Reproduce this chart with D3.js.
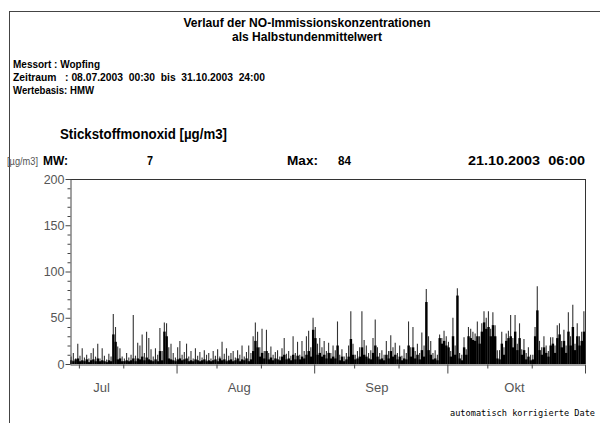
<!DOCTYPE html>
<html><head><meta charset="utf-8">
<script src="https://cdn.jsdelivr.net/npm/d3@7"></script>
<style>body{margin:0;background:#fff}svg{display:block}</style>
</head><body><svg id="c" width="600" height="423"></svg>
<script>
// ---------- data ----------
const startDate = "2003-07-08T00:00:00Z";
const endDate = "2003-11-01T00:00:00Z";
// half-day maxima (µg/m3)
const peakValues = [
 8,12,6,22,9,17,7,10,6,12,
 17,8,22,6,17,9,5,11,8,54,
 40,19,17,8,6,12,7,10,53,9,
 23,20,32,12,35,28,16,8,17,10,
 39,14,45,44,18,22,12,7,18,25,
 10,13,22,8,14,6,17,9,13,7,
 15,10,12,6,14,9,16,8,24,11,
 17,9,12,14,7,15,10,20,8,13,
 20,12,30,45,35,18,38,14,37,12,
 19,10,13,15,8,17,28,11,14,9,
 30,12,24,10,25,14,30,36,18,50,
 40,22,28,18,25,14,23,12,20,15,
 46,10,16,8,12,20,57,22,10,14,
 18,57,26,20,12,15,28,48,18,12,
 15,10,25,14,31,18,23,12,20,9,
 16,12,46,18,40,14,22,12,34,20,
 81,30,25,12,15,10,32,28,36,30,
 24,14,50,20,82,12,10,29,16,40,
 38,35,33,46,30,44,57,50,57,38,
 56,42,15,15,35,18,33,36,53,28,
 53,22,44,16,27,12,18,10,10,40,
 84,25,18,30,20,14,29,29,20,42,
 44,25,37,20,56,30,64,22,44,30,
 35,57];
// half-day typical level (dense black mass)
const baseValues = [
 4,3,5,6,3,4,3,5,2,4,
 5,3,6,3,4,3,2,4,3,32,
 24,5,6,3,3,4,3,4,6,3,
 6,5,8,4,7,5,4,3,5,3,
 14,4,35,30,6,5,4,3,5,6,
 4,5,6,3,4,3,5,4,3,4,
 5,3,4,3,4,5,3,6,4,5,
 3,4,5,3,4,6,3,5,4,6,
 3,5,14,25,18,8,12,6,14,5,
 7,4,6,5,4,8,10,5,6,4,
 10,5,9,5,8,6,10,14,8,37,
 28,10,12,8,10,6,12,6,8,6,
 20,4,8,3,5,8,27,10,5,6,
 8,18,10,8,6,5,12,20,8,5,
 6,4,10,6,14,8,10,5,8,4,
 6,5,20,8,18,6,10,5,15,8,
 67,15,10,5,6,4,28,22,25,20,
 18,8,30,10,74,6,4,18,10,30,
 28,26,25,30,22,35,45,38,40,30,
 42,30,6,5,22,10,25,28,30,18,
 35,15,28,10,15,5,8,4,5,30,
 58,15,10,18,12,8,20,22,12,28,
 32,18,25,12,35,20,40,15,30,20,
 25,35];
const yTicks = [0,50,100,150,200];
const yMinorTicks = [10,20,30,40,60,70,80,90,110,120,130,140,160,170,180,190];
const monthStarts = ["2003-08-01","2003-09-01","2003-10-01","2003-11-01"];
const minorDates = ["2003-07-10","2003-07-20","2003-08-10","2003-08-20","2003-09-10","2003-09-20","2003-10-10","2003-10-20"];
const monthLabels = ["Jul","Aug","Sep","Okt"];
const monthLabelDates = ["2003-07-15","2003-08-15","2003-09-15","2003-10-16"];
const titleLines = ["Verlauf der NO-Immissionskonzentrationen","als Halbstundenmittelwert"];
const infoLines = ["Messort : Wopfing","Zeitraum   : 08.07.2003  00:30  bis  31.10.2003  24:00","Wertebasis: HMW"];
const subTitle = "Stickstoffmonoxid [µg/m3]";
const unitLabel = "[µg/m3]";
const statTexts = ["MW:","7","Max:","84","21.10.2003  06:00"];
const footNote = "automatisch korrigierte Date";

// ---------- drawing ----------
const svg = d3.select("#c");
const narrow = "'Liberation Sans Narrow','Liberation Sans',Arial,sans-serif";
const utc = s => new Date(s.length === 10 ? s + "T00:00:00Z" : s);

const x = d3.scaleUtc().domain([utc(startDate), utc(endDate)]).range([70, 585]);
const y = d3.scaleLinear().domain([0, 200]).range([364, 179]);

// outer frame
svg.append("line").attr("x1",9).attr("x2",600).attr("y1",11.5).attr("y2",11.5).attr("stroke","#444");
svg.append("line").attr("x1",9.5).attr("x2",9.5).attr("y1",11).attr("y2",423).attr("stroke","#444");

// titles
const tl = [{w:247,y:27},{w:150,y:41}];
titleLines.forEach((t,i)=>{
  svg.append("text").attr("x",307).attr("y",tl[i].y).attr("text-anchor","middle")
    .attr("font-family",narrow).attr("font-weight","bold").attr("font-size",12.5)
    .attr("textLength",tl[i].w).attr("lengthAdjust","spacingAndGlyphs").text(t);
});
const il = [{w:87,y:68},{w:252,y:81},{w:81,y:94}];
infoLines.forEach((t,i)=>{
  svg.append("text").attr("x",13).attr("y",il[i].y).attr("xml:space","preserve")
    .attr("font-family",narrow).attr("font-weight","bold").attr("font-size",10)
    .attr("textLength",il[i].w).attr("lengthAdjust","spacingAndGlyphs").text(t);
});
svg.append("text").attr("x",60).attr("y",139).attr("font-family",narrow).attr("font-weight","bold")
  .attr("font-size",14).attr("textLength",167).attr("lengthAdjust","spacingAndGlyphs").text(subTitle);

svg.append("text").attr("x",7).attr("y",165).attr("font-family",narrow).attr("font-size",11.5)
  .attr("fill","#555").attr("textLength",31).attr("lengthAdjust","spacingAndGlyphs").text(unitLabel);
const st = [{x:43,w:25},{x:147,w:6},{x:287,w:31},{x:338,w:13},{x:468,w:117}];
statTexts.forEach((t,i)=>{
  svg.append("text").attr("x",st[i].x).attr("y",165).attr("xml:space","preserve")
    .attr("font-family",narrow).attr("font-weight","bold").attr("font-size",12)
    .attr("textLength",st[i].w).attr("lengthAdjust","spacingAndGlyphs").text(t);
});

// data
const slotMs = 12*3600*1000;
const t0 = +utc(startDate);
const slots = peakValues.map((p,i)=>({t:new Date(t0+i*slotMs), t1:new Date(t0+(i+1)*slotMs), peak:p, base:baseValues[i]}));
const g = svg.append("g");
g.selectAll("line.pk").data(slots).join("line").attr("class","pk")
  .attr("x1",d=>(x(d.t)+x(d.t1))/2).attr("x2",d=>(x(d.t)+x(d.t1))/2)
  .attr("y1",y(0)).attr("y2",d=>y(d.peak)).attr("stroke","#333").attr("stroke-width",1.1);
g.selectAll("rect.bs").data(slots).join("rect").attr("class","bs")
  .attr("x",d=>x(d.t)).attr("width",d=>x(d.t1)-x(d.t)+0.2)
  .attr("y",d=>y(d.base)).attr("height",d=>y(0)-y(d.base)).attr("fill","#000");

// plot frame top / right
svg.append("line").attr("x1",x.range()[0]).attr("x2",x.range()[1]).attr("y1",y(200)+0.5).attr("y2",y(200)+0.5).attr("stroke","#333");
svg.append("line").attr("x1",x.range()[1]+0.5).attr("x2",x.range()[1]+0.5).attr("y1",y(200)).attr("y2",y(0)).attr("stroke","#333");

// y axis
const ya = svg.append("g").attr("transform",`translate(${x.range()[0]+0.5},0)`)
  .call(d3.axisLeft(y).tickValues(yTicks).tickSize(5).tickSizeOuter(0).tickPadding(1).tickFormat(d3.format("d")));
svg.append("g").attr("transform",`translate(${x.range()[0]+0.5},0)`)
  .call(d3.axisLeft(y).tickValues(yMinorTicks).tickSize(3).tickFormat(""))
  .call(s=>s.select(".domain").remove());
ya.selectAll("text").attr("font-family",narrow).attr("font-size",12.5).attr("fill","#555");
svg.selectAll(".tick line,.domain").attr("stroke","#444");

// x axis
const xa = svg.append("g").attr("transform",`translate(0,${y(0)+0.5})`)
  .call(d3.axisBottom(x).tickValues(monthStarts.map(utc)).tickSize(9).tickSizeOuter(0).tickFormat(""));
svg.append("g").attr("transform",`translate(0,${y(0)+0.5})`)
  .call(d3.axisBottom(x).tickValues(minorDates.map(utc)).tickSize(4).tickFormat(""))
  .call(s=>s.select(".domain").remove());
const ml = svg.append("g").attr("transform",`translate(0,${y(0)})`)
  .call(d3.axisBottom(x).tickValues(monthLabelDates.map(utc)).tickSize(0).tickPadding(19)
    .tickFormat((d,i)=>monthLabels[i]));
ml.select(".domain").remove();
ml.selectAll("text").attr("font-family",narrow).attr("font-size",13).attr("fill","#555");
svg.selectAll(".tick line,.domain").attr("stroke","#444");

// footnote
svg.append("text").attr("x",450).attr("y",416).attr("font-family","'DejaVu Sans Mono',monospace")
  .attr("font-size",8.5).attr("textLength",145).attr("lengthAdjust","spacingAndGlyphs").text(footNote);
</script></body></html>
